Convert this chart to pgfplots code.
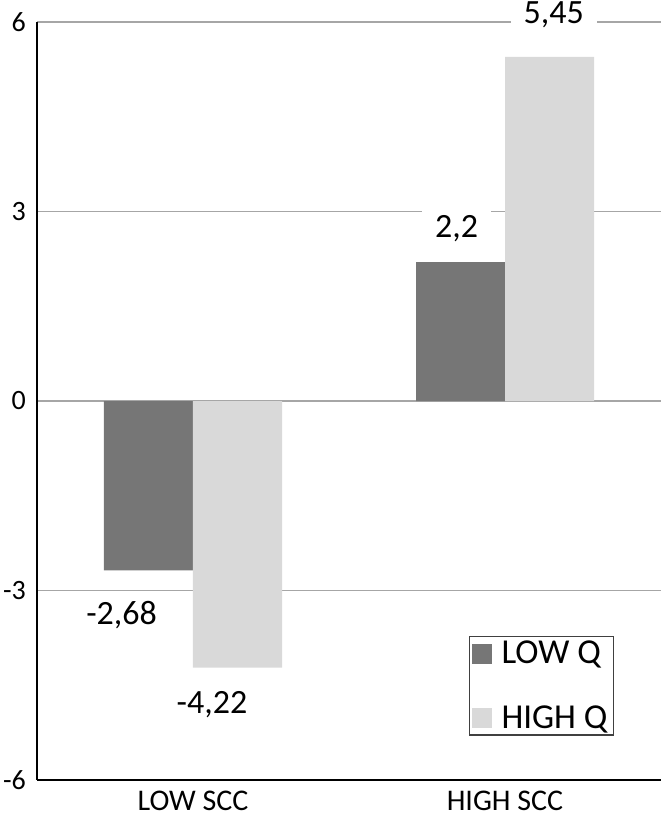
\documentclass[border=0pt]{standalone}
\usepackage{pgfplots}
\pgfplotsset{compat=1.18}
\usepackage{fontspec}
\setmainfont{Carlito}
\definecolor{darkbar}{HTML}{767676}
\definecolor{lightbar}{HTML}{D9D9D9}
\definecolor{gridgray}{HTML}{A6A6A6}
\definecolor{legborder}{HTML}{404040}
\begin{document}
\begin{tikzpicture}
\begin{axis}[
  at={(0,0)}, anchor=south west,
  scale only axis, width=312pt, height=379pt,
  xmin=-0.5, xmax=1.5, ymin=-6, ymax=6,
  ytick={-6,-3,0,3,6},
  xtick={0,1}, xticklabels={LOW SCC, HIGH SCC},
  axis x line=bottom, axis y line=left,
  axis line style={black, line width=1pt, -},
  major tick length=0pt,
  /pgf/number format/assume math mode=true,
  yticklabel style={font=\fontsize{14}{16}\selectfont, xshift=-2pt},
  xticklabel style={font=\fontsize{15}{17}\selectfont, yshift=-2pt},
  ymajorgrids, grid style={gridgray, line width=0.7pt},
  ybar=0pt, bar width=44.5pt,
  clip=false,
  legend cell align=left,
  legend style={at={(rel axis cs:0.692,0.19)}, anchor=north west,
    draw=legborder, line width=0.7pt,
    font=\fontsize{17.5}{19}\selectfont, row sep=15.5pt, column sep=3pt,
    inner xsep=1pt, inner ysep=0pt},
  myleg/.style={legend image code/.code={\fill[##1] (0pt,-5pt) rectangle (10pt,5pt);}},
]
\addplot[fill=darkbar, draw=none, myleg] coordinates {(0,-2.68) (1,2.2)};
\addplot[fill=lightbar, draw=none, myleg] coordinates {(0,-4.22) (1,5.45)};
\legend{LOW Q, HIGH Q}
\tikzset{vlab/.style={anchor=base, fill=white, inner xsep=6.5pt, inner ysep=2pt, font=\fontsize{17}{19}\selectfont}}
\node[vlab] at (axis cs:-0.229,-3.546) {-2,68};
\node[vlab] at (axis cs:0.061,-4.94) {-4,22};
\node[vlab] at (axis cs:0.845,2.596) {2,2};
\node[vlab] at (axis cs:1.156,5.98) {5,45};
\end{axis}
\pgfresetboundingbox
\path (-18.5pt,-18pt) rectangle (312pt,390pt);
\end{tikzpicture}
\end{document}
